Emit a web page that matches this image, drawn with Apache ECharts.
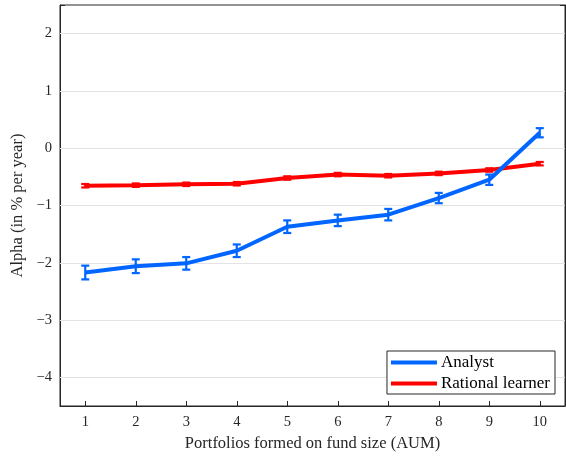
<!DOCTYPE html>
<html>
<head>
<meta charset="utf-8">
<script src="https://cdn.jsdelivr.net/npm/echarts@6/dist/echarts.min.js"></script>
<style>
  html, body { margin: 0; padding: 0; background: #fff; }
  #chart { width: 566px; height: 456px; }
</style>
</head>
<body>
<div id="chart"></div>
<script>
// portfolios formed on fund size
const portfolios = ['1', '2', '3', '4', '5', '6', '7', '8', '9', '10'];
const analyst = [-2.17, -2.06, -2.01, -1.79, -1.37, -1.26, -1.16, -0.87, -0.55, 0.27];
const analystErr = [0.12, 0.12, 0.11, 0.11, 0.11, 0.1, 0.1, 0.09, 0.09, 0.08];
const rational = [-0.655, -0.645, -0.63, -0.62, -0.52, -0.46, -0.48, -0.44, -0.38, -0.27];
const rationalErr = [0.03, 0.03, 0.03, 0.03, 0.03, 0.03, 0.03, 0.03, 0.03, 0.03];
const yTicks = [-4, -3, -2, -1, 0, 1, 2];

const font = 'Liberation Serif';
const axisColor = '#262626';

function errorBars(values, errs, color) {
  return {
    type: 'custom',
    silent: true,
    z: 4,
    data: values.map((v, i) => [i, v - errs[i], v + errs[i]]),
    renderItem: function (params, api) {
      const lo = api.coord([api.value(0), api.value(1)]);
      const hi = api.coord([api.value(0), api.value(2)]);
      const w = 4;
      const style = { stroke: color, lineWidth: 2.2, fill: null };
      return {
        type: 'group',
        children: [
          { type: 'line', shape: { x1: lo[0], y1: lo[1], x2: hi[0], y2: hi[1] }, style: style },
          { type: 'line', shape: { x1: lo[0] - w, y1: lo[1], x2: lo[0] + w, y2: lo[1] }, style: style },
          { type: 'line', shape: { x1: hi[0] - w, y1: hi[1], x2: hi[0] + w, y2: hi[1] }, style: style }
        ]
      };
    }
  };
}

const chart = echarts.init(document.getElementById('chart'));

const option = {
  backgroundColor: '#fff',
  animation: false,
  textStyle: { fontFamily: font },
  grid: {
    left: 60,
    right: 1,
    top: 5,
    bottom: 50,
    outerBoundsMode: 'none',
    containLabel: false,
    show: true,
    borderColor: axisColor,
    borderWidth: 1
  },
  legend: {
    data: ['Analyst', 'Rational learner'],
    orient: 'vertical',
    right: 11,
    bottom: 62,
    icon: 'rect',
    itemWidth: 46,
    itemHeight: 4,
    itemGap: 4,
    padding: [3, 5, 2, 4],
    backgroundColor: '#fff',
    borderColor: axisColor,
    borderWidth: 1,
    borderRadius: 0,
    textStyle: { fontFamily: font, fontSize: 17, color: '#000', padding: [0, 0, 0, -1] }
  },
  xAxis: {
    type: 'category',
    data: portfolios,
    boundaryGap: true,
    name: 'Portfolios formed on fund size (AUM)',
    nameLocation: 'middle',
    nameGap: 28,
    nameTextStyle: { fontFamily: font, fontSize: 16.5, color: axisColor },
    axisLine: { show: true, onZero: false, lineStyle: { color: axisColor, width: 1 } },
    axisTick: { show: true, alignWithLabel: true, inside: true, length: 5, lineStyle: { color: axisColor } },
    axisLabel: { fontFamily: font, fontSize: 14.5, color: axisColor, margin: 9 },
    splitLine: { show: false }
  },
  yAxis: [
    {
      type: 'value',
      min: -4.5,
      max: 2.5,
      name: 'Alpha (in % per year)',
      nameLocation: 'middle',
      nameGap: 29,
      nameTextStyle: { fontFamily: font, fontSize: 16.5, color: axisColor },
      axisLine: { show: true, onZero: false, lineStyle: { color: axisColor, width: 1 } },
      axisTick: { show: true, inside: true, length: 5, lineStyle: { color: axisColor, width: 1 } },
      axisLabel: {
        fontFamily: font, fontSize: 14.5, color: axisColor, margin: 8,
        customValues: yTicks,
        formatter: v => (v < 0 ? '\u2212' + Math.abs(v) : String(v))
      },
      splitLine: { show: false }
    },
    {
      type: 'value',
      min: -4.5,
      max: 2.5,
      position: 'right',
      axisLine: { show: true, onZero: false, lineStyle: { color: axisColor, width: 1 } },
      axisTick: { show: true, inside: true, length: 5, lineStyle: { color: axisColor, width: 1 } },
      axisLabel: { show: true, customValues: yTicks, margin: 0, fontSize: 1, color: 'rgba(0,0,0,0)', formatter: () => '' },
      splitLine: { show: false }
    }
  ],
  series: [
    {
      name: 'Rational learner',
      type: 'line',
      data: rational,
      symbol: 'none',
      color: '#ff0000',
      lineStyle: { width: 4, color: '#ff0000' },
      z: 3,
      markLine: {
        silent: true,
        symbol: 'none',
        label: { show: false },
        lineStyle: { color: '#e3e3e3', type: 'solid', width: 1 },
        z: 1,
        data: yTicks.map(v => ({ yAxis: v }))
      }
    },
    errorBars(rational, rationalErr, '#ff0000'),
    {
      name: 'Analyst',
      type: 'line',
      data: analyst,
      symbol: 'none',
      color: '#0066ff',
      lineStyle: { width: 4, color: '#0066ff' },
      z: 5
    },
    Object.assign(errorBars(analyst, analystErr, '#0066ff'), { z: 6 })
  ]
};

chart.setOption(option);
</script>
</body>
</html>
